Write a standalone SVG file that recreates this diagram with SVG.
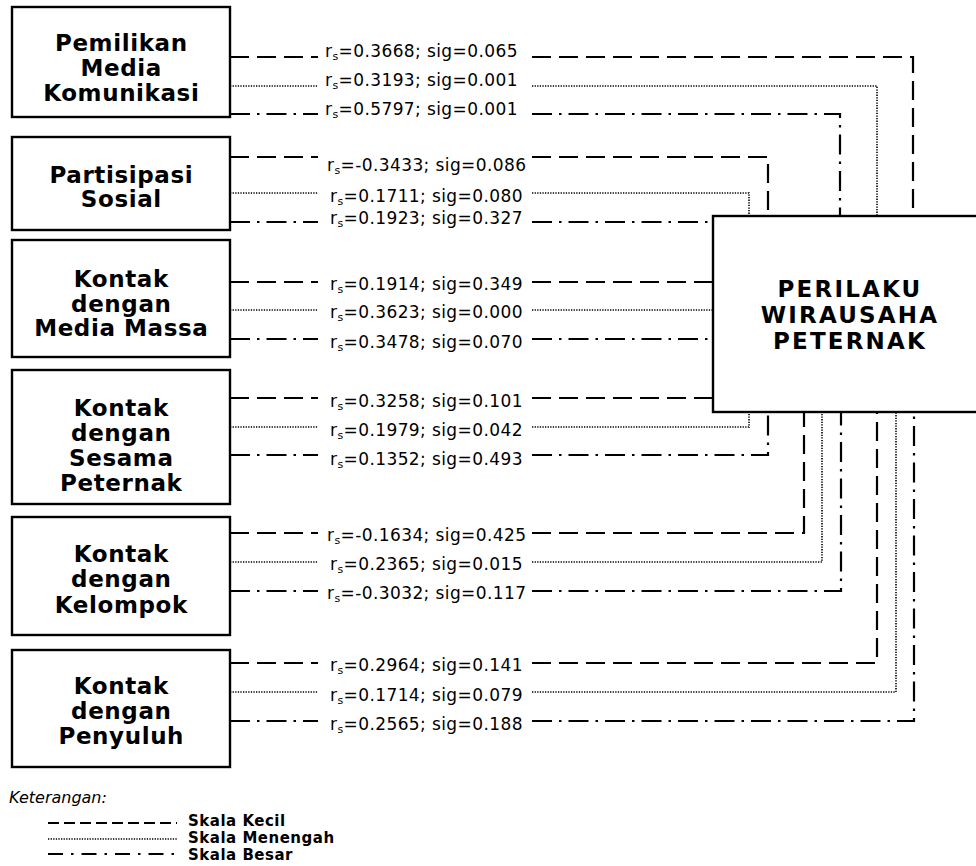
<svg xmlns="http://www.w3.org/2000/svg" width="976" height="866" viewBox="0 0 976 866">
  <style>
    .box { fill: #fff; stroke: #000; stroke-width: 2.4; }
    .name { font-family: "DejaVu Sans", Verdana, sans-serif; font-weight: bold; font-size: 23px; letter-spacing: 0.6px; text-anchor: middle; fill: #000; }
    .main { font-family: "DejaVu Sans", Verdana, sans-serif; font-weight: bold; font-size: 23px; letter-spacing: 2.2px; text-anchor: middle; fill: #000; }
    .lbl { font-family: "DejaVu Sans", Verdana, sans-serif; font-size: 17px; letter-spacing: 0.4px; fill: #000; }
    .sub { font-size: 11px; }
    .ln { fill: none; stroke: #000; }
    .dash { stroke-width: 2.2; stroke-dasharray: 19 8; }
    .dot { stroke-width: 1.6; stroke-dasharray: 1.3 1.3; }
    .dd { stroke-width: 2.2; stroke-dasharray: 20 7 2.5 7; }
    .kdash { stroke-width: 2.2; stroke-dasharray: 11 5; }
    .kdd { stroke-width: 2.2; stroke-dasharray: 15 8 2.5 8; }
    .key { font-family: "DejaVu Sans", Verdana, sans-serif; font-weight: bold; font-size: 15px; letter-spacing: 0.5px; fill: #000; }
    .note { font-family: "DejaVu Sans", Verdana, sans-serif; font-style: italic; font-size: 16px; fill: #000; }
  </style>

  <!-- connectors: each edge is split around its correlation label -->
  <g id="connectors">
    <g id="e-media-kom">
      <path class="ln dash" d="M230,57 H318 M532,57 H913 V216"/>
      <text class="lbl" x="325" y="57">r<tspan class="sub" dy="3">s</tspan><tspan dy="-3">=0.3668; sig=0.065</tspan></text>
      <path class="ln dot" d="M230,86 H318 M532,86 H877 V216"/>
      <text class="lbl" x="325" y="86">r<tspan class="sub" dy="3">s</tspan><tspan dy="-3">=0.3193; sig=0.001</tspan></text>
      <path class="ln dd" d="M230,114 H318 M532,114 H840 V216"/>
      <text class="lbl" x="325" y="115">r<tspan class="sub" dy="3">s</tspan><tspan dy="-3">=0.5797; sig=0.001</tspan></text>
    </g>
    <g id="e-partisipasi">
      <path class="ln dash" d="M230,157 H318 M532,157 H768 V216"/>
      <text class="lbl" x="327" y="171">r<tspan class="sub" dy="3">s</tspan><tspan dy="-3">=-0.3433; sig=0.086</tspan></text>
      <path class="ln dot" d="M230,193 H318 M532,193 H749 V216"/>
      <text class="lbl" x="330" y="202">r<tspan class="sub" dy="3">s</tspan><tspan dy="-3">=0.1711; sig=0.080</tspan></text>
      <path class="ln dd" d="M230,222 H318 M532,222 H713"/>
      <text class="lbl" x="330" y="224">r<tspan class="sub" dy="3">s</tspan><tspan dy="-3">=0.1923; sig=0.327</tspan></text>
    </g>
    <g id="e-media-massa">
      <path class="ln dash" d="M230,282 H318 M532,282 H713"/>
      <text class="lbl" x="330" y="290">r<tspan class="sub" dy="3">s</tspan><tspan dy="-3">=0.1914; sig=0.349</tspan></text>
      <path class="ln dot" d="M230,310 H318 M532,310 H713"/>
      <text class="lbl" x="330" y="318">r<tspan class="sub" dy="3">s</tspan><tspan dy="-3">=0.3623; sig=0.000</tspan></text>
      <path class="ln dd" d="M230,339 H318 M532,339 H713"/>
      <text class="lbl" x="330" y="348">r<tspan class="sub" dy="3">s</tspan><tspan dy="-3">=0.3478; sig=0.070</tspan></text>
    </g>
    <g id="e-sesama">
      <path class="ln dash" d="M230,398 H318 M532,398 H713"/>
      <text class="lbl" x="330" y="407">r<tspan class="sub" dy="3">s</tspan><tspan dy="-3">=0.3258; sig=0.101</tspan></text>
      <path class="ln dot" d="M230,427 H318 M532,427 H749 V412"/>
      <text class="lbl" x="330" y="436">r<tspan class="sub" dy="3">s</tspan><tspan dy="-3">=0.1979; sig=0.042</tspan></text>
      <path class="ln dd" d="M230,455 H318 M532,455 H768 V412"/>
      <text class="lbl" x="330" y="465">r<tspan class="sub" dy="3">s</tspan><tspan dy="-3">=0.1352; sig=0.493</tspan></text>
    </g>
    <g id="e-kelompok">
      <path class="ln dash" d="M230,533 H318 M532,533 H804 V412"/>
      <text class="lbl" x="327" y="541">r<tspan class="sub" dy="3">s</tspan><tspan dy="-3">=-0.1634; sig=0.425</tspan></text>
      <path class="ln dot" d="M230,562 H318 M532,562 H822 V412"/>
      <text class="lbl" x="330" y="570">r<tspan class="sub" dy="3">s</tspan><tspan dy="-3">=0.2365; sig=0.015</tspan></text>
      <path class="ln dd" d="M230,591 H318 M532,591 H841 V412"/>
      <text class="lbl" x="327" y="599">r<tspan class="sub" dy="3">s</tspan><tspan dy="-3">=-0.3032; sig=0.117</tspan></text>
    </g>
    <g id="e-penyuluh">
      <path class="ln dash" d="M230,663 H318 M532,663 H877 V412"/>
      <text class="lbl" x="330" y="671">r<tspan class="sub" dy="3">s</tspan><tspan dy="-3">=0.2964; sig=0.141</tspan></text>
      <path class="ln dot" d="M230,692 H318 M532,692 H896 V412"/>
      <text class="lbl" x="330" y="701">r<tspan class="sub" dy="3">s</tspan><tspan dy="-3">=0.1714; sig=0.079</tspan></text>
      <path class="ln dd" d="M230,721 H318 M532,721 H914 V412"/>
      <text class="lbl" x="330" y="730">r<tspan class="sub" dy="3">s</tspan><tspan dy="-3">=0.2565; sig=0.188</tspan></text>
    </g>
  </g>

  <!-- independent variables -->
  <g id="n-media-kom">
    <rect class="box" x="12" y="7" width="218" height="110"/>
    <text class="name" x="121.3" y="51">Pemilikan</text>
    <text class="name" x="121.3" y="76">Media</text>
    <text class="name" x="121.3" y="101">Komunikasi</text>
  </g>
  <g id="n-partisipasi">
    <rect class="box" x="12" y="137" width="218" height="93"/>
    <text class="name" x="121.3" y="183">Partisipasi</text>
    <text class="name" x="121.3" y="207">Sosial</text>
  </g>
  <g id="n-media-massa">
    <rect class="box" x="12" y="240" width="218" height="117"/>
    <text class="name" x="121.3" y="287">Kontak</text>
    <text class="name" x="121.3" y="312">dengan</text>
    <text class="name" x="121.3" y="336">Media Massa</text>
  </g>
  <g id="n-sesama">
    <rect class="box" x="12" y="370" width="218" height="134"/>
    <text class="name" x="121.3" y="416">Kontak</text>
    <text class="name" x="121.3" y="441">dengan</text>
    <text class="name" x="121.3" y="466">Sesama</text>
    <text class="name" x="121.3" y="491">Peternak</text>
  </g>
  <g id="n-kelompok">
    <rect class="box" x="12" y="517" width="218" height="118"/>
    <text class="name" x="121.3" y="562">Kontak</text>
    <text class="name" x="121.3" y="587">dengan</text>
    <text class="name" x="121.3" y="613">Kelompok</text>
  </g>
  <g id="n-penyuluh">
    <rect class="box" x="12" y="650" width="218" height="117"/>
    <text class="name" x="121.3" y="694">Kontak</text>
    <text class="name" x="121.3" y="719">dengan</text>
    <text class="name" x="121.3" y="744">Penyuluh</text>
  </g>

  <!-- dependent variable (box runs off the right edge) -->
  <g id="n-perilaku">
    <rect class="box" x="713" y="216" width="290" height="196"/>
    <text class="main" x="850" y="297">PERILAKU</text>
    <text class="main" x="850" y="323">WIRAUSAHA</text>
    <text class="main" x="850" y="349">PETERNAK</text>
  </g>

  <!-- legend -->
  <g id="legend">
    <text class="note" x="9" y="803">Keterangan:</text>
    <path class="ln kdash" d="M48,823 H177"/>
    <path class="ln dot" d="M48,839 H177"/>
    <path class="ln kdd" d="M48,854 H177"/>
    <text class="key" x="188" y="826">Skala Kecil</text>
    <text class="key" x="188" y="843">Skala Menengah</text>
    <text class="key" x="188" y="860">Skala Besar</text>
  </g>
</svg>
